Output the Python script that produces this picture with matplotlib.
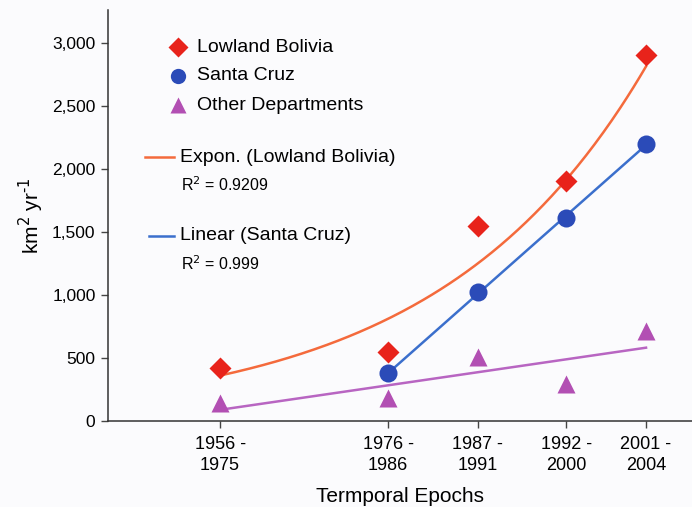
import numpy as np
import matplotlib
matplotlib.use("Agg")
import matplotlib.pyplot as plt

plt.rcParams["font.family"] = ["Liberation Sans", "DejaVu Sans"]

# epochs, placed on a relative time axis (as in the original)
epoch_labels = ["1956 -\n1975", "1976 -\n1986", "1987 -\n1991", "1992 -\n2000", "2001 -\n2004"]
epoch_x = [0, 15, 23, 30.9, 38]

lowland = [420, 550, 1550, 1900, 2900]
santa_cruz = [380, 1020, 1610, 2200]   # from 1976 on
other = [140, 180, 510, 290, 710]

red, blue, purple = "#e8231b", "#2b4bb8", "#b24fb3"
orange_line, blue_line, purple_line = "#f46a3c", "#3b6fcc", "#b865c2"
bg = "#fbfbfd"

fig = plt.figure(figsize=(6.92, 5.07), dpi=100, facecolor=bg)
ax = fig.add_axes([108/692, 86/507, 584/692, 411/507], facecolor=bg)

x = np.array(epoch_x, dtype=float)
xs = x[1:]

# exponential trend (Lowland Bolivia)
b, a = np.polyfit(x, np.log(lowland), 1)
xx = np.linspace(x[0], x[-1], 200)
ax.plot(xx, np.exp(a + b * xx), color=orange_line, lw=1.8, zorder=2)

# linear trend (Santa Cruz)
m, c = np.polyfit(xs, santa_cruz, 1)
ax.plot(xs, m * xs + c, color=blue_line, lw=1.8, zorder=2)

# linear trend (other departments)
m2, c2 = np.polyfit(x, other, 1)
ax.plot(x, m2 * x + c2, color=purple_line, lw=1.8, zorder=2)

ax.plot(x, lowland, "D", color=red, ms=11, mec="none", zorder=3)
ax.plot(xs, santa_cruz, "o", color=blue, ms=13, mec="none", zorder=3)
ax.plot(x, other, "^", color=purple, ms=13, mec="none", zorder=3)

ax.set_xlim(-10, 42.1)
ax.set_ylim(0, 3260)
ax.set_xticks(epoch_x)
ax.set_xticklabels(epoch_labels, fontsize=13, linespacing=1.25)
ax.set_yticks(range(0, 3001, 500))
ax.set_yticklabels([f"{v:,}" for v in range(0, 3001, 500)], fontsize=12.5)
ax.tick_params(direction="out", length=5, width=1, color="#444444", pad=4)
ax.tick_params(axis="x", pad=6)
for s in ("top", "right"):
    ax.spines[s].set_visible(False)
for s in ("left", "bottom"):
    ax.spines[s].set_color("#333333")
    ax.spines[s].set_linewidth(1.1)

ax.set_xlabel("Termporal Epochs", fontsize=15, labelpad=10)
ax.set_ylabel(r"km$^2$ yr$^{\text{-}1}$", fontsize=15, labelpad=4)

# legend, drawn by hand in axes coordinates
def ax_pt(px, py):
    return (px - 108) / 584, (421 - py) / 411

tr = ax.transAxes
for (mk, col, ms, lab, py) in [("D", red, 10, "Lowland Bolivia", 47),
                              ("o", blue, 11, "Santa Cruz", 76),
                              ("^", purple, 12, "Other Departments", 105)]:
    mx, my = ax_pt(178, py)
    ax.plot([mx], [my], mk, color=col, ms=ms, mec="none", transform=tr, clip_on=False)
    tx, ty = ax_pt(197, py)
    ax.text(tx, ty, lab, transform=tr, fontsize=14, va="center", ha="left")

for (col, x0, x1, lab, r2, py) in [(orange_line, 145, 174, "Expon. (Lowland Bolivia)", "0.9209", 157),
                                   (blue_line, 149, 174, "Linear (Santa Cruz)", "0.999", 236)]:
    (lx0, ly), (lx1, _) = ax_pt(x0, py), ax_pt(x1, py)
    ax.plot([lx0, lx1], [ly, ly], color=col, lw=1.8, transform=tr, clip_on=False)
    tx, ty = ax_pt(180, py)
    ax.text(tx, ty, lab, transform=tr, fontsize=14, va="center", ha="left")
    rx, ry = ax_pt(181, py + 28)
    ax.text(rx, ry, "R$^2$ = " + r2, transform=tr, fontsize=11.5, va="center", ha="left")

fig.savefig("out.png", dpi=100, facecolor=bg)
